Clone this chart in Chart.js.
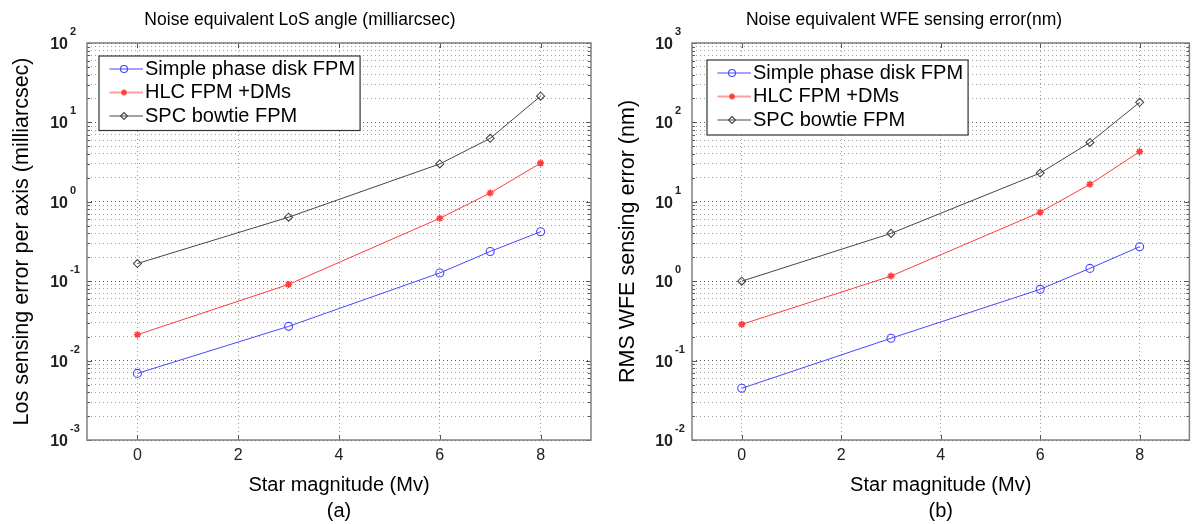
<!DOCTYPE html>
<html>
<head>
<meta charset="utf-8">
<script src="https://cdn.jsdelivr.net/npm/chart.js@4.4.1/dist/chart.umd.min.js"></script>
<style>
  html, body { margin: 0; padding: 0; background: #fff; }
  #wrap { position: relative; width: 1195px; height: 524px; overflow: hidden; }
  .panel { position: absolute; top: 0; }
</style>
</head>
<body>
<div id="wrap">
  <canvas id="chartA" class="panel" width="597" height="524" style="left:0"></canvas>
  <canvas id="chartB" class="panel" width="598" height="524" style="left:597px"></canvas>
</div>
<script>
// star magnitudes (x values)
const magnitudes = [0, 3, 6, 7, 8];
const seriesNames = ['Simple phase disk FPM', 'HLC FPM +DMs', 'SPC bowtie FPM'];

// (a) noise equivalent LoS angle, milliarcsec
const losSimple = [0.0069, 0.027, 0.127, 0.237, 0.42];
const losHlc = [0.0212, 0.091, 0.62, 1.29, 3.07];
const losSpc = [0.167, 0.64, 3.0, 6.3, 21.4];

// (b) noise equivalent WFE sensing error, nm
const wfeSimple = [0.0448, 0.191, 0.79, 1.45, 2.72];
const wfeHlc = [0.286, 1.16, 7.4, 16.6, 42.8];
const wfeSpc = [1.0, 4.0, 23, 55.9, 179];

// axis ticks
const xTicks = [0, 2, 4, 6, 8];
const losDecades = [-3, -2, -1, 0, 1, 2];
const wfeDecades = [-2, -1, 0, 1, 2, 3];

const FONT = "'Liberation Sans', Arial, Helvetica, sans-serif";
const colors = ['rgb(70,70,255)', 'rgb(255,60,60)', 'rgb(70,70,70)'];
const markers = ['circle', 'star', 'rectRot'];
const markerRadius = [4, 3.5, 4];
const Y_PAD = 19;   // gap between plot edge and the "10" of the y labels

function drawMarker(g, style, x, y, r) {
  g.beginPath();
  if (style === 'circle') {
    g.arc(x, y, r, 0, Math.PI * 2);
  } else if (style === 'rectRot') {
    g.moveTo(x, y - r); g.lineTo(x + r, y); g.lineTo(x, y + r); g.lineTo(x - r, y); g.closePath();
  } else {
    for (let k = 0; k < 4; k++) {
      const a = k * Math.PI / 4;
      g.moveTo(x + Math.cos(a) * r, y + Math.sin(a) * r);
      g.lineTo(x - Math.cos(a) * r, y - Math.sin(a) * r);
    }
  }
  g.stroke();
}

// little "--o--" samples for the legend
const legendIcons = colors.map((c, i) => {
  const cv = document.createElement('canvas');
  cv.width = 40; cv.height = 14;
  const g = cv.getContext('2d');
  g.strokeStyle = c; g.lineWidth = 1;
  g.beginPath(); g.moveTo(1, 7); g.lineTo(39, 7); g.stroke();
  g.lineWidth = i === 1 ? 1.6 : 1.1;
  drawMarker(g, markers[i], 20, 7, markerRadius[i] - 0.5);
  return cv;
});

function logTicks(decades) {
  const out = [];
  decades.forEach((e, k) => {
    out.push({value: Math.pow(10, e), major: true});
    if (k < decades.length - 1) {
      for (let m = 2; m <= 9; m++) out.push({value: m * Math.pow(10, e), major: false});
    }
  });
  return out;
}

const matlabLook = {
  id: 'matlabLook',
  afterLayout(chart, args, opts) {
    const lg = chart.legend, ca = chart.chartArea;
    lg.left = ca.left + opts.legendX;
    lg.top = ca.top + opts.legendY;
  },
  afterDatasetsDraw(chart, args, opts) {
    const {ctx, legend: lg} = chart;
    ctx.save();
    ctx.font = '20px ' + FONT;
    const w = Math.max(...seriesNames.map(t => ctx.measureText(t).width));
    const bx = lg.left - opts.boxDX;
    const by = lg.top + 0.5;
    const bw = (lg.left + 3.5 + 22 + 10 + w + 5) - bx;
    ctx.fillStyle = '#fff';
    ctx.fillRect(bx, by, bw, opts.boxH);
    ctx.strokeStyle = '#333';
    ctx.lineWidth = 1.2;
    ctx.strokeRect(bx, by, bw, opts.boxH);
    ctx.restore();
    lg.draw();
  },
  afterDraw(chart) {
    const {ctx, chartArea: ca, scales} = chart;
    ctx.save();
    // inward tick marks on all four sides
    ctx.strokeStyle = '#555';
    ctx.lineWidth = 1;
    ctx.beginPath();
    scales.x.ticks.forEach(t => {
      const px = Math.round(scales.x.getPixelForValue(t.value)) + 0.5;
      ctx.moveTo(px, ca.bottom); ctx.lineTo(px, ca.bottom - 5);
      ctx.moveTo(px, ca.top); ctx.lineTo(px, ca.top + 5);
    });
    scales.y.ticks.forEach(t => {
      const py = Math.round(scales.y.getPixelForValue(t.value)) + 0.5;
      const len = t.major ? 5 : 3;
      ctx.moveTo(ca.left, py); ctx.lineTo(ca.left + len, py);
      ctx.moveTo(ca.right, py); ctx.lineTo(ca.right - len, py);
    });
    ctx.stroke();
    ctx.strokeStyle = '#808080';
    ctx.lineWidth = 1.5;
    ctx.strokeRect(ca.left, ca.top, ca.width, ca.height);
    // exponents of the 10^n labels
    ctx.font = 'bold 11px ' + FONT;
    ctx.fillStyle = '#222';
    ctx.textAlign = 'left';
    ctx.textBaseline = 'middle';
    scales.y.ticks.forEach(t => {
      if (!t.major) return;
      const py = scales.y.getPixelForValue(t.value);
      ctx.fillText(String(Math.round(Math.log10(t.value))), ca.left - Y_PAD + 2, py - 11);
    });
    ctx.restore();
  }
};

function buildDatasets(seriesList) {
  return seriesList.map((vals, i) => ({
    label: seriesNames[i],
    data: magnitudes.map((m, j) => ({x: m, y: vals[j]})),
    borderColor: colors[i],
    borderWidth: 1,
    pointStyle: markers[i],
    pointRadius: markerRadius[i],
    pointBorderColor: colors[i],
    pointBackgroundColor: 'rgba(0,0,0,0)',
    pointBorderWidth: i === 1 ? 1.6 : 1.1,
    tension: 0,
    fill: false
  }));
}

function makeChart(id, seriesList, decades, title, yTitle, panel, cfg) {
  const yTicks = logTicks(decades);
  return new Chart(document.getElementById(id), {
    type: 'line',
    data: {datasets: buildDatasets(seriesList)},
    plugins: [matlabLook],
    options: {
      responsive: false,
      animation: false,
      events: [],
      layout: {padding: {left: cfg.padL, right: cfg.padR, top: 0, bottom: 0}},
      plugins: {
        tooltip: {enabled: false},
        title: {
          display: true, text: title, color: '#000',
          font: {family: FONT, size: 17.5, weight: 'normal'},
          padding: {top: 9.5, bottom: 12.5}
        },
        legend: {
          position: 'chartArea', align: 'start',
          labels: {
            usePointStyle: true, pointStyleWidth: 22, padding: 3.5, color: '#000',
            font: {family: FONT, size: 20},
            generateLabels: (chart) => chart.data.datasets.map((ds, i) => ({
              text: ds.label, pointStyle: legendIcons[i], datasetIndex: i, hidden: false,
              fillStyle: 'rgba(0,0,0,0)', strokeStyle: 'rgba(0,0,0,0)', lineWidth: 0, fontColor: '#000'
            }))
          }
        },
        matlabLook: {legendX: cfg.legendX, legendY: cfg.legendY, boxDX: cfg.boxDX, boxH: cfg.boxH}
      },
      scales: {
        x: {
          type: 'linear', min: -1, max: 9,
          afterBuildTicks: (s) => { s.ticks = xTicks.map(v => ({value: v})); },
          afterFit: (s) => { s.height = 84; },
          grid: {color: '#9a9a9a', lineWidth: 1, drawTicks: false},
          border: {display: false, dash: [1, 3]},
          ticks: {font: {family: FONT, size: 16}, color: '#222', padding: 6, maxRotation: 0},
          title: {
            display: true, text: ['Star magnitude (Mv)', panel], color: '#000',
            font: {family: FONT, size: 20, lineHeight: 1.3}, padding: {top: 0, bottom: 0}
          }
        },
        y: {
          type: 'logarithmic',
          min: Math.pow(10, decades[0]), max: Math.pow(10, decades[decades.length - 1]),
          afterBuildTicks: (s) => { s.ticks = yTicks.map(t => ({value: t.value, major: t.major})); },
          afterFit: (s) => { s.width = cfg.yWidth; },
          grid: {
            color: (c) => (c.tick && c.tick.major) ? '#555' : '#a0a0a0',
            lineWidth: 1, drawTicks: false
          },
          border: {display: false, dash: [1, 3]},
          ticks: {
            autoSkip: false, padding: Y_PAD, color: '#222', labelOffset: 1.5,
            font: {family: FONT, size: 16, weight: 'bold'},
            callback: (v, i, ticks) => ticks[i].major ? '10' : ''
          },
          title: {
            display: true, text: yTitle, color: '#000',
            font: {family: FONT, size: 21.5}, padding: {top: 0, bottom: 0}
          }
        }
      }
    }
  });
}

makeChart('chartA', [losSimple, losHlc, losSpc], losDecades,
  'Noise equivalent LoS angle (milliarcsec)', 'Los sensing error per axis (milliarcsec)', '(a)',
  {padL: 9, padR: 6, yWidth: 78, legendX: 22.5, legendY: 12.5, boxDX: 10.5, boxH: 74.5});

makeChart('chartB', [wfeSimple, wfeHlc, wfeSpc], wfeDecades,
  'Noise equivalent WFE sensing error(nm)', 'RMS WFE sensing error (nm)', '(b)',
  {padL: 18, padR: 2, yWidth: 77, legendX: 25.5, legendY: 16.5, boxDX: 10.5, boxH: 75});
</script>
</body>
</html>
